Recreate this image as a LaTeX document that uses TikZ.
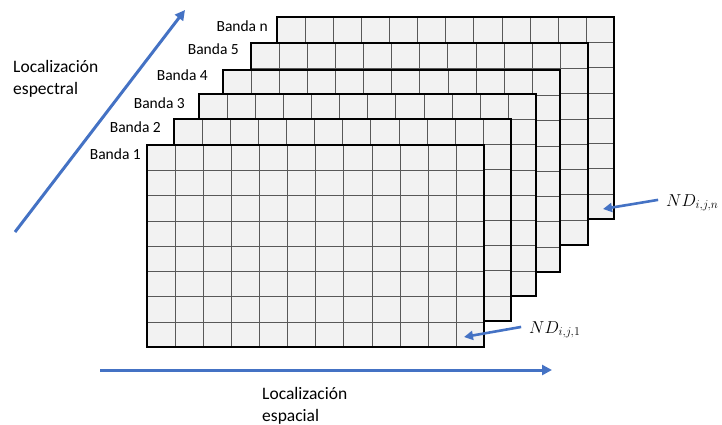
\documentclass[tikz,border=0pt]{standalone}
\usepackage{fontspec}
\setmainfont{Carlito}
\usetikzlibrary{arrows.meta,calc}
\definecolor{axisblue}{HTML}{4472C4}
\definecolor{bandfill}{HTML}{F2F2F2}
\begin{document}
\begin{tikzpicture}[x=1pt,y=-1pt,
  bandbox/.style={anchor=north west, minimum width=337pt, minimum height=202pt, inner sep=0pt, fill=bandfill},
  bandborder/.style={line width=1.9pt, line join=miter},
  gridline/.style={line width=0.7pt, draw=black!65},
  bandlabel/.style={anchor=base east, inner sep=0pt, font=\fontsize{15.5}{18}\selectfont},
  axistext/.style={anchor=north west, inner sep=0pt, align=left, font=\fontsize{17.5}{22}\selectfont},
  ndlabel/.style={anchor=base west, inner sep=0pt, font=\fontsize{18}{22}\selectfont},
  axisarrow/.style={draw=axisblue, line width=3pt, -{Triangle[length=10pt,width=10pt]}},
  smallarrow/.style={draw=axisblue, line width=2.6pt, -{Triangle[length=9pt,width=9pt]}, shorten <=8pt}
]
\useasboundingbox (0,0) rectangle (722,425);

\foreach \i/\x/\y/\lx/\ly in {n/277/17/268/32, 5/251/43/239/55, 4/223/70/208/81, 3/199/94/185/109, 2/174/119/161/132, 1/147/145/141/159}{
  \node[bandbox] (b\i) at (\x,\y) {};
  \foreach \k in {1,...,11}
    \draw[gridline] ($(b\i.north west)!\k/12!(b\i.north east)$) -- ($(b\i.south west)!\k/12!(b\i.south east)$);
  \foreach \k in {1,...,7}
    \draw[gridline] ($(b\i.north west)!\k/8!(b\i.south west)$) -- ($(b\i.north east)!\k/8!(b\i.south east)$);
  \draw[bandborder] (b\i.north west) rectangle (b\i.south east);
  \node[bandlabel] (l\i) at (\lx,\ly) {Banda \i};
}

% axes
\coordinate (spec0) at (15,232);
\coordinate (spec1) at (185,10);
\draw[axisarrow] (spec0) -- (spec1);
\coordinate (spat0) at (100,370);
\coordinate (spat1) at (552,370);
\draw[axisarrow] (spat0) -- (spat1);

\node[axistext] (tspec) at (13,60) {Localización\\espectral};
\node[axistext] (tspat) at (262,387) {Localización\\espacial};

% ND labels
\node[ndlabel] (ndn) at (666,206) {$ND_{i,j,n}$};
\node[ndlabel] (nd1) at (529,333) {$ND_{i,j,1}$};
\coordinate (pn) at (603,209);
\coordinate (p1) at (464,337);
\draw[smallarrow] ([yshift=4pt]ndn.west) -- (pn);
\draw[smallarrow] ([yshift=4pt]nd1.west) -- (p1);
\end{tikzpicture}
\end{document}
